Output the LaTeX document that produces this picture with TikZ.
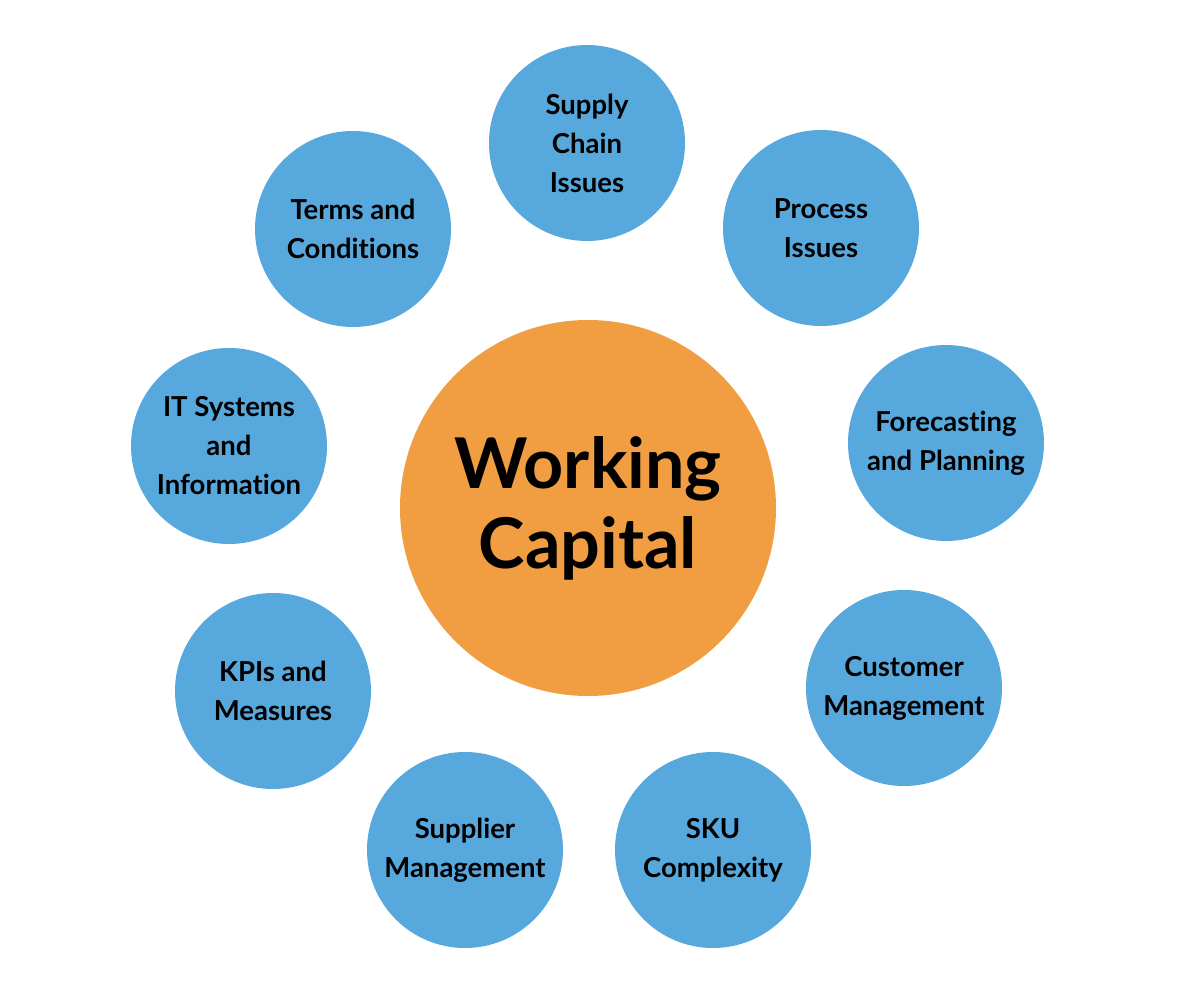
\documentclass[tikz,border=0pt]{standalone}
\usepackage{fontspec}
\setmainfont{Lato}[Ligatures=NoCommon]
\usepackage{tikz}
\usetikzlibrary{positioning}

\definecolor{topicblue}{HTML}{56A8DD}
\definecolor{coreorange}{HTML}{F19D42}

\tikzset{
    topic/.style={
        circle,
        fill=topicblue,
        minimum size=196pt,
        inner sep=0pt,
        align=center,
        font=\fontsize{27.5}{39}\selectfont\bfseries
    },
    core/.style={
        circle,
        fill=coreorange,
        minimum size=376pt,
        inner sep=0pt,
        align=center,
        font=\fontsize{70}{80}\selectfont\bfseries
    }
}

\begin{document}
\begin{tikzpicture}[x=1pt,y=-1pt]
    \useasboundingbox[fill=white] (0,0) rectangle (1200,1000);

    \node[core] (wc) at (588,508) {Working\\Capital};

    \node[topic] (supply)   at (587,143) {Supply\\Chain\\Issues};
    \node[topic] (process)  at (821,228) {Process\\Issues};
    \node[topic] (forecast) at (946,443) {Forecasting\\and Planning};
    \node[topic] (customer) at (904,688) {Customer\\Management};
    \node[topic] (sku)      at (713,850) {SKU\\Complexity};
    \node[topic] (supplier) at (465,850) {Supplier\\Management};
    \node[topic] (kpis)     at (273,691) {KPIs and\\Measures};
    \node[topic] (itsys)    at (229,446) {IT Systems\\and\\Information};
    \node[topic] (terms)    at (353,229) {Terms and\\Conditions};
\end{tikzpicture}
\end{document}
